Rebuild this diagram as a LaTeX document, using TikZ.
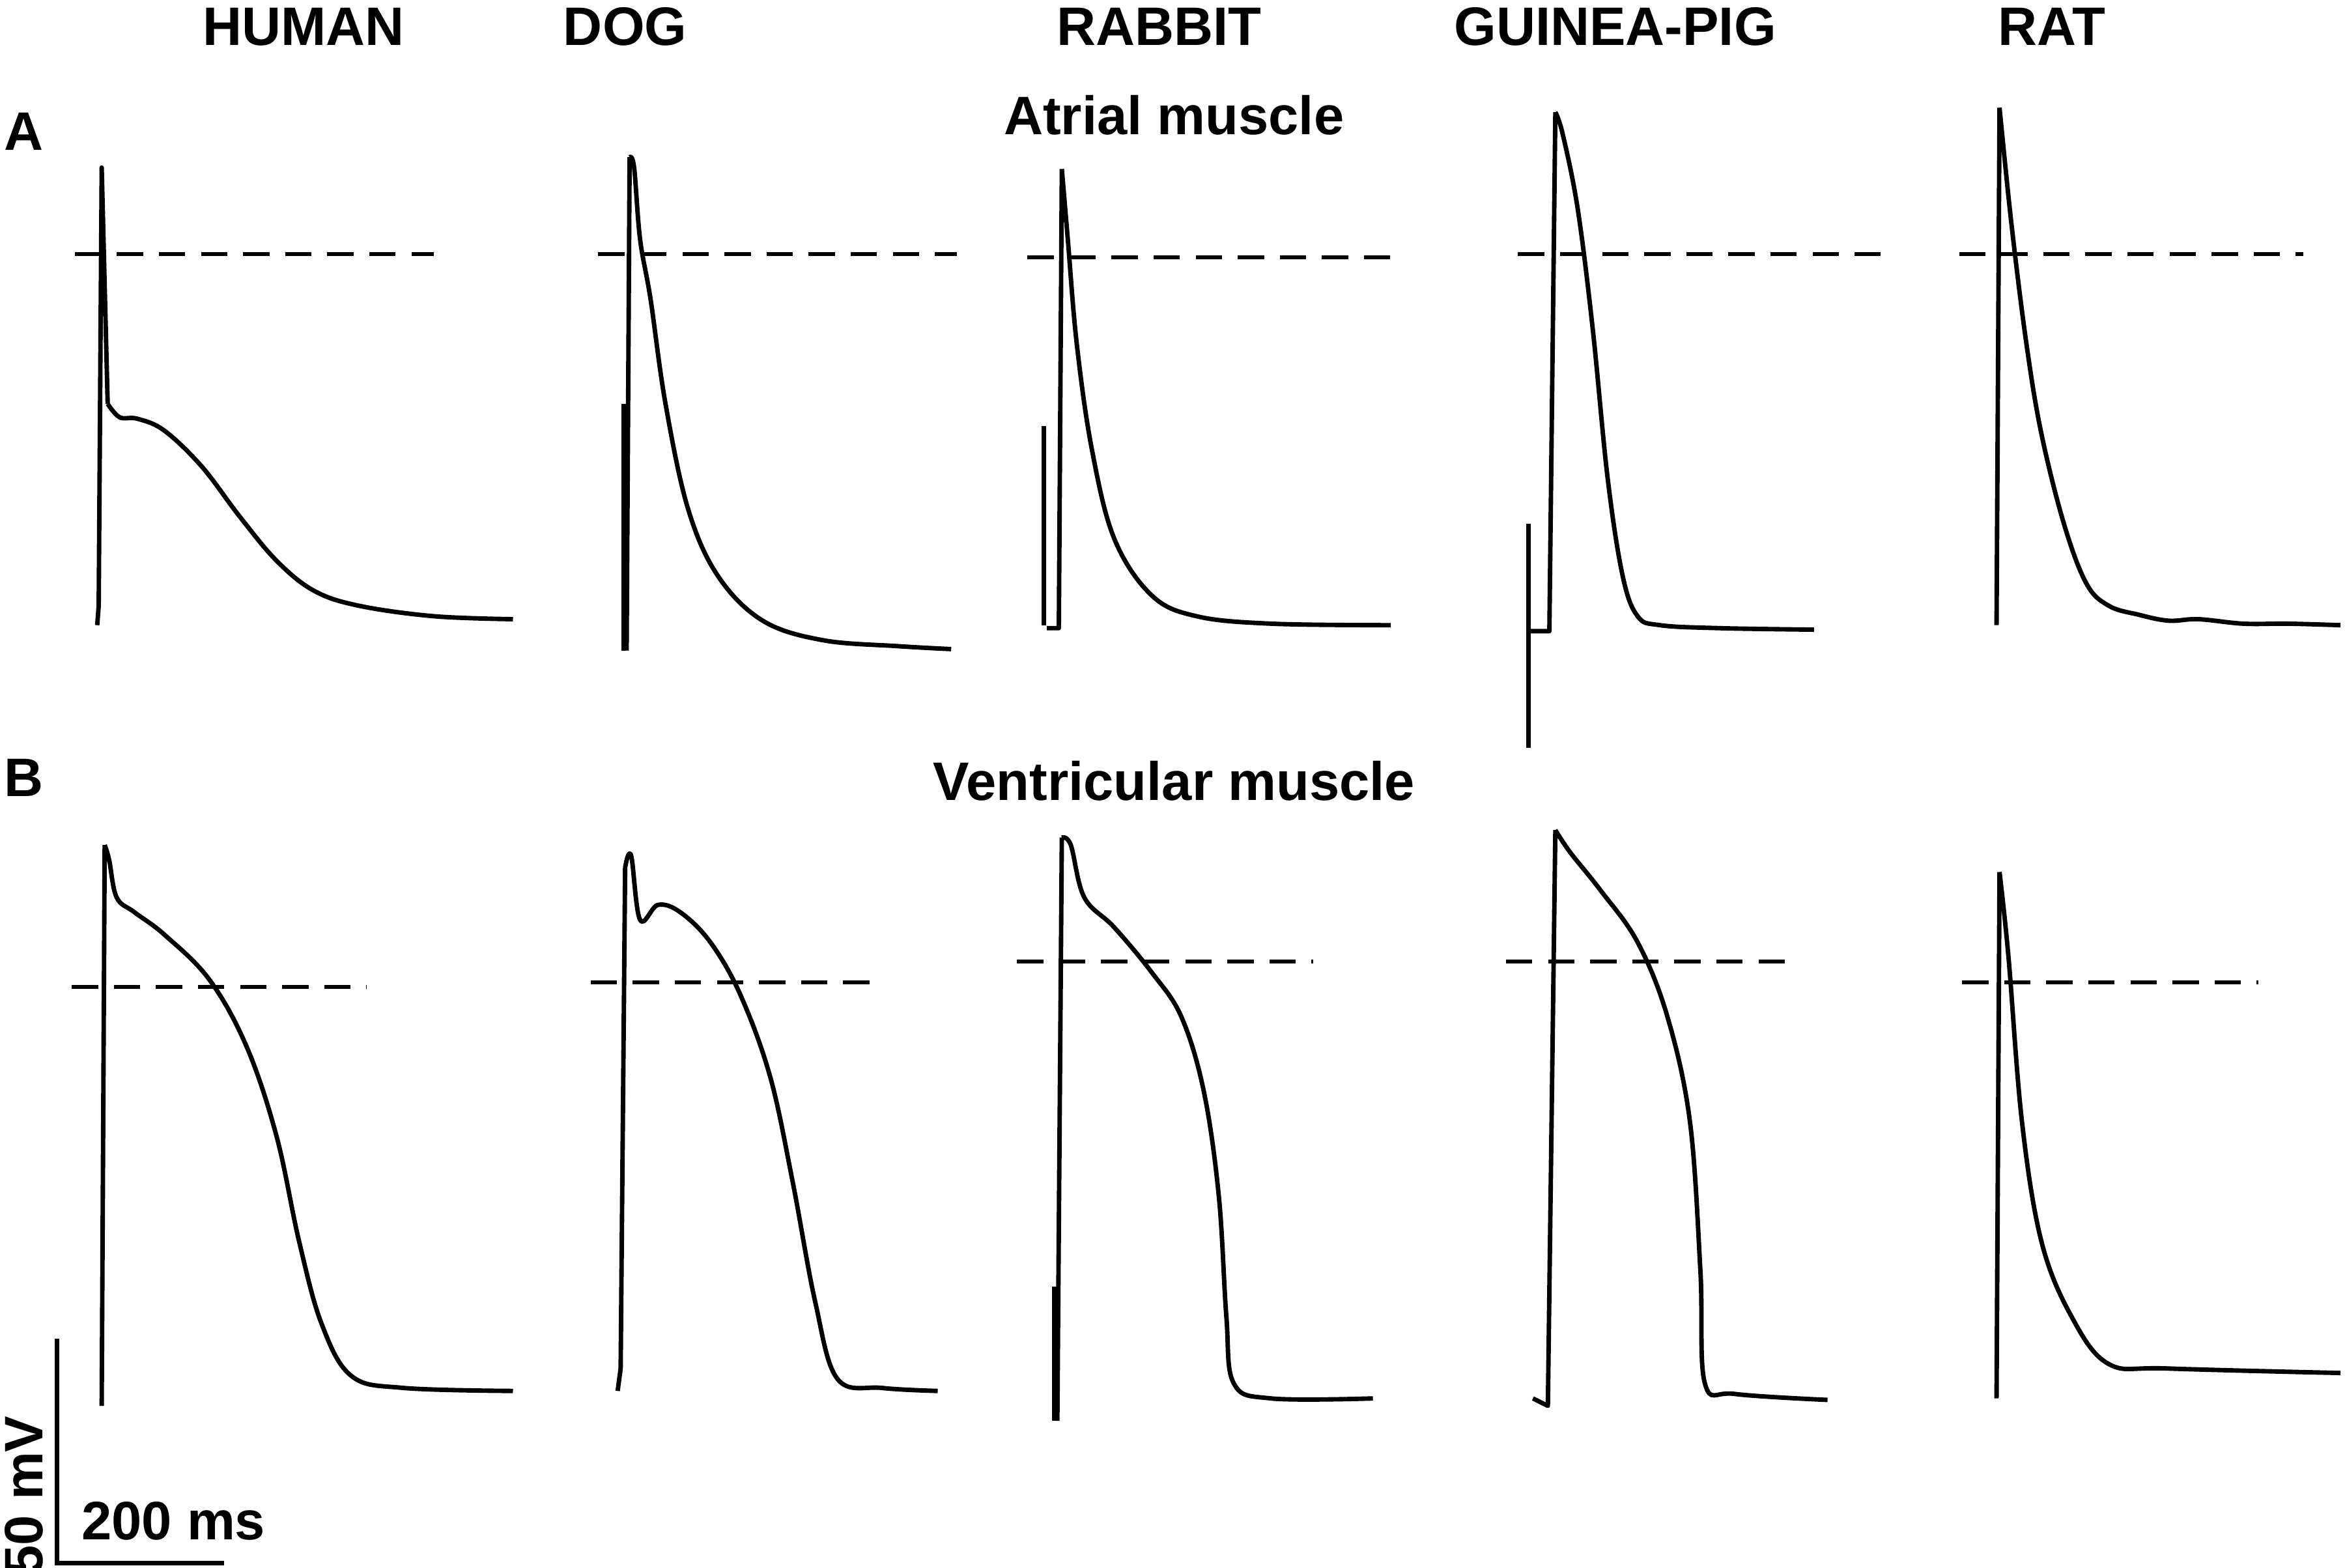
\documentclass[tikz,border=0pt]{standalone}
\usepackage{fontspec}
\setmainfont{Liberation Sans}
\begin{document}
\begin{tikzpicture}[x=0.01cm,y=-0.01cm,
  trace/.style={line width=0.85pt,line join=round},
  ref/.style={line width=0.75pt,dash pattern=on 5pt off 3pt},
  lab/.style={font=\bfseries\fontsize{10.3}{12}\selectfont,inner sep=0pt}]
\useasboundingbox (0,0) rectangle (1568,1048);
\node[lab] (h) at (203,18) {HUMAN};
\node[lab] (d) at (418,18) {DOG};
\node[lab] (r) at (775,18) {RABBIT};
\node[lab] (g) at (1080,18) {GUINEA-PIG};
\node[lab] (t) at (1372,18) {RAT};
\node[lab] (A) at (16,88) {A};
\node[lab] (am) at (785,77) {Atrial muscle};
\node[lab] (B) at (16,520) {B};
\node[lab] (vm) at (785,522) {Ventricular muscle};
% atrial
\draw[ref] (50,170)--(290,170);
\draw[trace] (65,418)--(66,405)--(68,112)--(72,270) plot[smooth,tension=0.6] coordinates{(72,270)(80,279)(92,280)(110,288)(135,312)(160,345)(185,375)(210,395)(240,405)(290,412)(343,414)};
\draw[ref] (400,170)--(640,170);
\draw[trace] (417,270)--(417,435);
\draw[trace] (419,435)--(421,105) plot[smooth,tension=0.6] coordinates{(421,105)(424,112)(428,160)(435,200)(445,270)(460,340)(480,385)(510,415)(550,428)(600,432)(636,434)};
\draw[ref] (687,172)--(930,172);
\draw[trace] (698,285)--(698,418);
\draw[trace] (700,420)--(708,420)--(710,113) plot[smooth,tension=0.6] coordinates{(710,113)(714,160)(720,230)(730,300)(745,360)(770,398)(800,412)(850,417)(930,418)};
\draw[ref] (1015,170)--(1260,170);
\draw[trace] (1022,350)--(1022,500);
\draw[trace] (1022,422)--(1036,422)--(1040,75) plot[smooth,tension=0.6] coordinates{(1040,75)(1045,90)(1055,140)(1065,220)(1075,320)(1085,385)(1095,412)(1110,418)(1150,420)(1213,421)};
\draw[ref] (1310,170)--(1540,170);
\draw[trace] (1335,418)--(1337,72) plot[smooth,tension=0.6] coordinates{(1337,72)(1345,150)(1355,230)(1365,290)(1380,350)(1395,390)(1410,405)(1430,411)(1450,415)(1470,414)(1500,417)(1530,417)(1565,418)};
% ventricular
\draw[ref] (48,660)--(245,660);
\draw[trace] (68,940)--(70,565) plot[smooth,tension=0.6] coordinates{(70,565)(73,575)(78,600)(90,610)(110,625)(140,655)(165,700)(185,760)(200,830)(215,885)(235,920)(270,928)(343,930)};
\draw[ref] (395,657)--(590,657);
\draw[trace] (413,930)--(415,915)--(418,580) plot[smooth,tension=0.6] coordinates{(418,580)(422,572)(428,615)(440,605)(455,610)(475,630)(495,665)(515,720)(530,790)(545,870)(560,922)(590,928)(627,930)};
\draw[ref] (680,643)--(878,643);
\draw[trace] (705,860)--(705,950);
\draw[trace] (707,950)--(710,560) plot[smooth,tension=0.6] coordinates{(710,560)(716,565)(725,600)(745,620)(770,650)(790,680)(805,730)(815,800)(820,880)(825,925)(850,935)(918,935)};
\draw[ref] (1007,643)--(1195,643);
\draw[trace] (1025,935)--(1035,940)--(1040,555) plot[smooth,tension=0.6] coordinates{(1040,555)(1050,570)(1070,595)(1095,630)(1115,680)(1130,750)(1137,850)(1140,925)(1160,932)(1222,936)};
\draw[ref] (1312,657)--(1510,657);
\draw[trace] (1335,935)--(1337,583) plot[smooth,tension=0.6] coordinates{(1337,583)(1343,640)(1352,750)(1365,830)(1385,880)(1410,912)(1450,915)(1565,918)};
% scale bar
\coordinate (s1) at (38,895); \coordinate (s2) at (38,1045); \coordinate (s3) at (150,1045);
\draw[line width=0.85pt] (s1)--(s2)--(s3);
\node[lab,rotate=90] (mv) at (16,1000) {50 mV};
\node[lab] (ms) at (116,1017) {200 ms};
\end{tikzpicture}
\end{document}
